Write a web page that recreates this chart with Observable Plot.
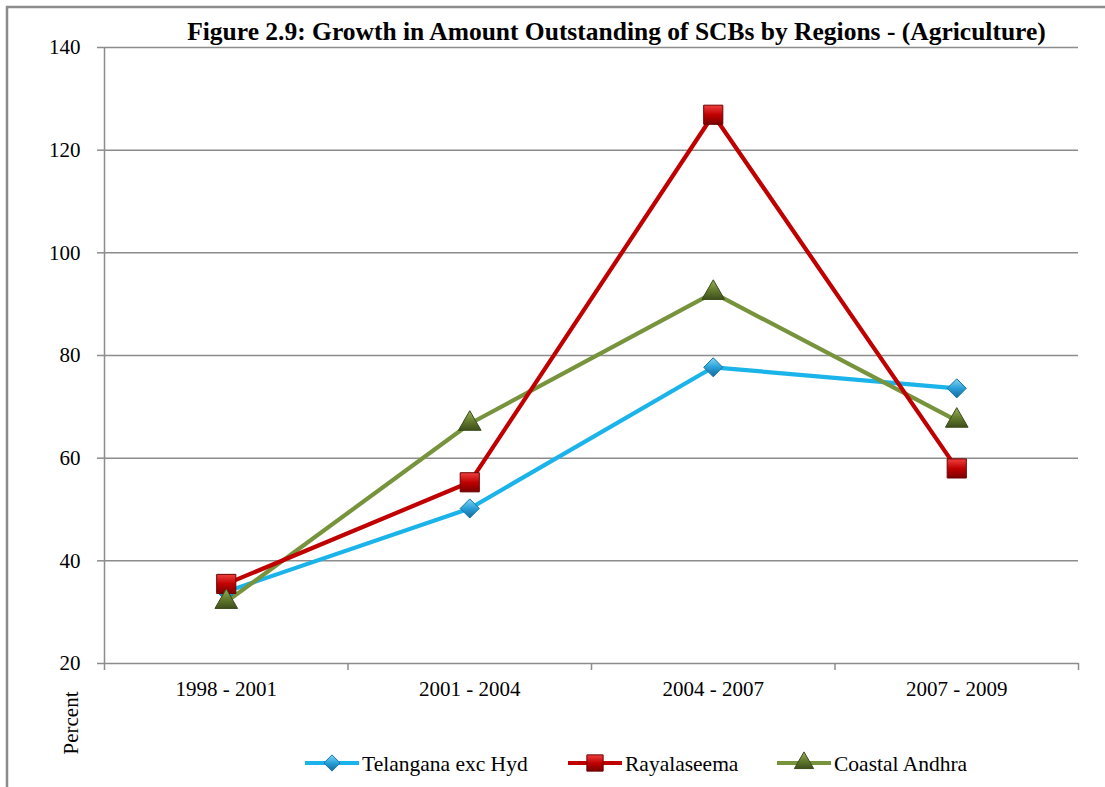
<!DOCTYPE html>
<html><head><meta charset="utf-8">
<script src="https://cdn.jsdelivr.net/npm/d3@7"></script>
<script src="https://cdn.jsdelivr.net/npm/@observablehq/plot@0.6"></script>
<style>
body{margin:0;background:#fff;}
#wrap{position:relative;width:1105px;height:787px;overflow:hidden;}
</style></head><body><div id="wrap"></div>
<script>
const categories = ["1998 - 2001", "2001 - 2004", "2004 - 2007", "2007 - 2009"];
const seriesNames = ["Telangana exc Hyd", "Rayalaseema", "Coastal Andhra"];
const telangana = [34.0, 50.2, 77.7, 73.6];
const rayalaseema = [35.5, 55.3, 126.9, 58.0];
const coastal = [32.0, 66.7, 92.2, 67.3];
const yTicks = [20, 40, 60, 80, 100, 120, 140];
const titleText = "Figure 2.9: Growth in Amount Outstanding of SCBs by Regions - (Agriculture)";
const yLabel = "Percent";

const values = [telangana, rayalaseema, coastal];
const lineColors = ["#1AB3EA", "#C00000", "#77933C"];
const symbols = ["diamond2", "square", "triangle"];
const radii = [8.6, 10.8, 8.4];
const strokes = ["#1674A8", "#6E0000", "#3A4A1A"];

const rows = [];
seriesNames.forEach((s, si) => values[si].forEach((v, i) => rows.push({series: s, si, i, cat: categories[i], value: v})));
const bySeries = si => rows.filter(d => d.si === si);

const font = "'Liberation Serif', 'Times New Roman', serif";
const grid = "#8c8c8c";

const lineOrder = [0, 2, 1];
const dotOrder = [0, 1, 2];

const plot = Plot.plot({
  width: 1105, height: 787,
  marginLeft: 104, marginRight: 27, marginTop: 47, marginBottom: 124,
  style: {fontFamily: font, fontSize: "21px", color: "#000", background: "#fff", overflow: "visible"},
  x: {domain: [0, 4], axis: null},
  y: {domain: [20, 140], axis: null},
  marks: [
    Plot.ruleY(yTicks, {stroke: grid, strokeWidth: 1.5}),
    Plot.ruleX([0], {y1: 20, y2: 140, stroke: grid, strokeWidth: 1.5}),
    Plot.axisY({ticks: yTicks, tickSize: 7, tickPadding: 17, stroke: grid, strokeWidth: 1.5, label: null, fontSize: 21}),
    Plot.axisX({ticks: [0, 1, 2, 3, 4], tickSize: 7, stroke: grid, strokeWidth: 1.5, tickFormat: () => "", label: null}),
    Plot.axisX({ticks: [0.5, 1.5, 2.5, 3.5], tickSize: 0, tickPadding: 18, tickFormat: d => categories[Math.floor(d)], label: null, fontSize: 21}),
    ...lineOrder.map(si => Plot.line(bySeries(si), {x: d => d.i + 0.5, y: "value", stroke: lineColors[si], strokeWidth: 4.2, strokeLinejoin: "round"})),
    ...dotOrder.map(si => Plot.dot(bySeries(si), {x: d => d.i + 0.5, y: "value", symbol: symbols[si], r: radii[si], fill: `url(#mk${si})`, stroke: strokes[si], strokeWidth: 1}))
  ]
});

const svg = d3.select(plot);
const defs = svg.insert("defs", ":first-child");
const grads = [["#7FD8F7", "#2A9FD8", "#15689A"], ["#F04040", "#C00000", "#7A0000"], ["#9AB25A", "#657D2E", "#3E4F1C"]];
grads.forEach((g, i) => {
  const lg = defs.append("linearGradient").attr("id", "mk" + i).attr("x1", 0).attr("y1", 0).attr("x2", 0).attr("y2", 1);
  lg.append("stop").attr("offset", "0%").attr("stop-color", g[0]);
  lg.append("stop").attr("offset", "50%").attr("stop-color", g[1]);
  lg.append("stop").attr("offset", "100%").attr("stop-color", g[2]);
});

// frame border
svg.append("path").attr("d", "M7,787 L7,7 L1105,7").attr("fill", "none").attr("stroke", grid).attr("stroke-width", 2.5);

// title
svg.append("text").attr("x", 616.5).attr("y", 39.5).attr("text-anchor", "middle")
  .attr("font-family", font).attr("font-weight", "bold").attr("font-size", 25.5).attr("fill", "#000").text(titleText);

// y label
svg.append("text").attr("transform", "translate(78,723) rotate(-90)").attr("text-anchor", "middle")
  .attr("font-family", font).attr("font-size", 21).attr("fill", "#000").text(yLabel);

// legend
const legend = svg.append("g");
const legX = [305, 568, 777];
seriesNames.forEach((s, si) => {
  const g = legend.append("g").attr("transform", `translate(${legX[si]},763)`);
  g.append("line").attr("x1", 0).attr("x2", 54).attr("stroke", lineColors[si]).attr("stroke-width", 4.2);
  const sym = {diamond2: d3.symbolDiamond2, square: d3.symbolSquare, triangle: d3.symbolTriangle}[symbols[si]];
  g.append("path").attr("transform", "translate(27,0)").attr("d", d3.symbol(sym, Math.PI * (radii[si] * 0.85) ** 2)())
    .attr("fill", `url(#mk${si})`).attr("stroke", strokes[si]).attr("stroke-width", 1);
  g.append("text").attr("x", 57).attr("y", 0).attr("dy", "0.35em").attr("text-anchor", "start")
    .attr("font-family", font).attr("font-size", 21.5).attr("fill", "#000").text(s);
});

document.getElementById("wrap").appendChild(plot);
</script></body></html>
